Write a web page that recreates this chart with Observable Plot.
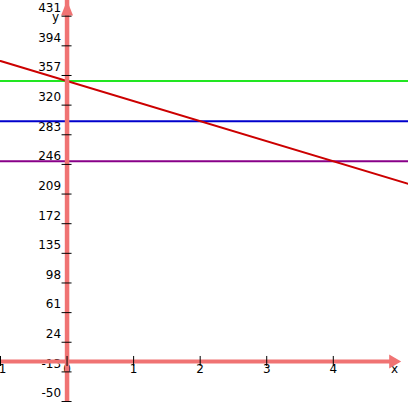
<!DOCTYPE html>
<html>
<head>
<meta charset="utf-8">
<script src="https://cdn.jsdelivr.net/npm/d3@7"></script>
<script src="https://cdn.jsdelivr.net/npm/@observablehq/plot@0.6"></script>
<style>
  html, body { margin: 0; padding: 0; background: #fff; }
  svg { display: block; }
</style>
</head>
<body>
<div id="chart"></div>
<script>
// Domains of the view
const xDomain = [-1, 5.13];
const yDomain = [-51.2, 450.6];

// Tick values / labels
const xTicks = [-1, 0, 1, 2, 3, 4];
const yTicks = [431, 394, 357, 320, 283, 246, 209, 172, 135, 98, 61, 24, -13, -50];
const xAxisName = ["x"];
const xAxisNamePos = [4.92];
const yAxisName = ["y"];
const yAxisNamePos = [431];

// Axis extents (arrow tips)
const xAxisEnd = 5.02;
const yAxisEnd = 450.6;

// Horizontal lines
const hLineNames = ["green", "blue", "purple"];
const hLineValues = [350, 300, 250];
const hLineColors = ["#22e622", "#0000cc", "#880088"];

// Decreasing red line (y = 350 - 25x) endpoints
const redX = [-1, 5.13];
const redY = [375, 221.75];

const hLines = hLineValues.map((v, i) => ({name: hLineNames[i], y: v, color: hLineColors[i]}));
const redLine = redX.map((x, i) => ({x, y: redY[i]}));

const axisColor = "#f07373";

const upArrow = {
  draw(ctx) { ctx.moveTo(0, 0); ctx.lineTo(-6, 15); ctx.lineTo(6, 15); ctx.closePath(); }
};
const rightArrow = {
  draw(ctx) { ctx.moveTo(0, 0); ctx.lineTo(-12, -7); ctx.lineTo(-12, 7); ctx.closePath(); }
};

const chart = Plot.plot({
  width: 408,
  height: 402,
  margin: 0,
  x: {domain: xDomain, axis: null},
  y: {domain: yDomain, axis: null},
  style: {fontFamily: "'DejaVu Sans', sans-serif", fontSize: "12px", color: "#000", background: "#fff"},
  marks: [
    // tick labels
    Plot.text(yTicks, {x: () => 0, y: d => d, text: d => String(d), textAnchor: "end", dx: -6, dy: -8, fill: "#000"}),
    Plot.text(xTicks, {x: d => d, y: () => 0, text: d => String(d), dy: 8, fill: "#000"}),
    Plot.text(xAxisName, {x: (d, i) => xAxisNamePos[i], y: () => 0, text: d => d, dy: 8, fill: "#000"}),
    Plot.text(yAxisName, {x: () => 0, y: (d, i) => yAxisNamePos[i], text: d => d, textAnchor: "end", dx: -8, dy: 1, fill: "#000"}),
    // horizontal lines
    Plot.ruleY(hLines, {y: "y", stroke: "color", strokeWidth: 2}),
    // red line
    Plot.line(redLine, {x: "x", y: "y", stroke: "#cc0000", strokeWidth: 2}),
    // axes
    Plot.ruleX([0], {x: d => d, y1: yDomain[0], y2: yAxisEnd, stroke: axisColor, strokeWidth: 4.5, insetTop: 10}),
    Plot.ruleY([0], {y: d => d, x1: xDomain[0], x2: xAxisEnd, stroke: axisColor, strokeWidth: 4, insetRight: 8}),
    Plot.dot([yAxisEnd], {x: () => 0, y: d => d, symbol: upArrow, fill: axisColor, stroke: "none"}),
    Plot.dot([xAxisEnd], {x: d => d, y: () => 0, symbol: rightArrow, fill: axisColor, stroke: "none"}),
    // tick marks
    Plot.ruleY(yTicks, {y: d => d, x1: () => 0, x2: () => 0, insetLeft: -5, insetRight: -5, stroke: "#000", strokeWidth: 1}),
    Plot.ruleX(xTicks, {x: d => d, y1: () => 0, y2: () => 0, insetTop: -5, insetBottom: -5, stroke: "#000", strokeWidth: 1})
  ]
});

document.getElementById("chart").appendChild(chart);
</script>
</body>
</html>
